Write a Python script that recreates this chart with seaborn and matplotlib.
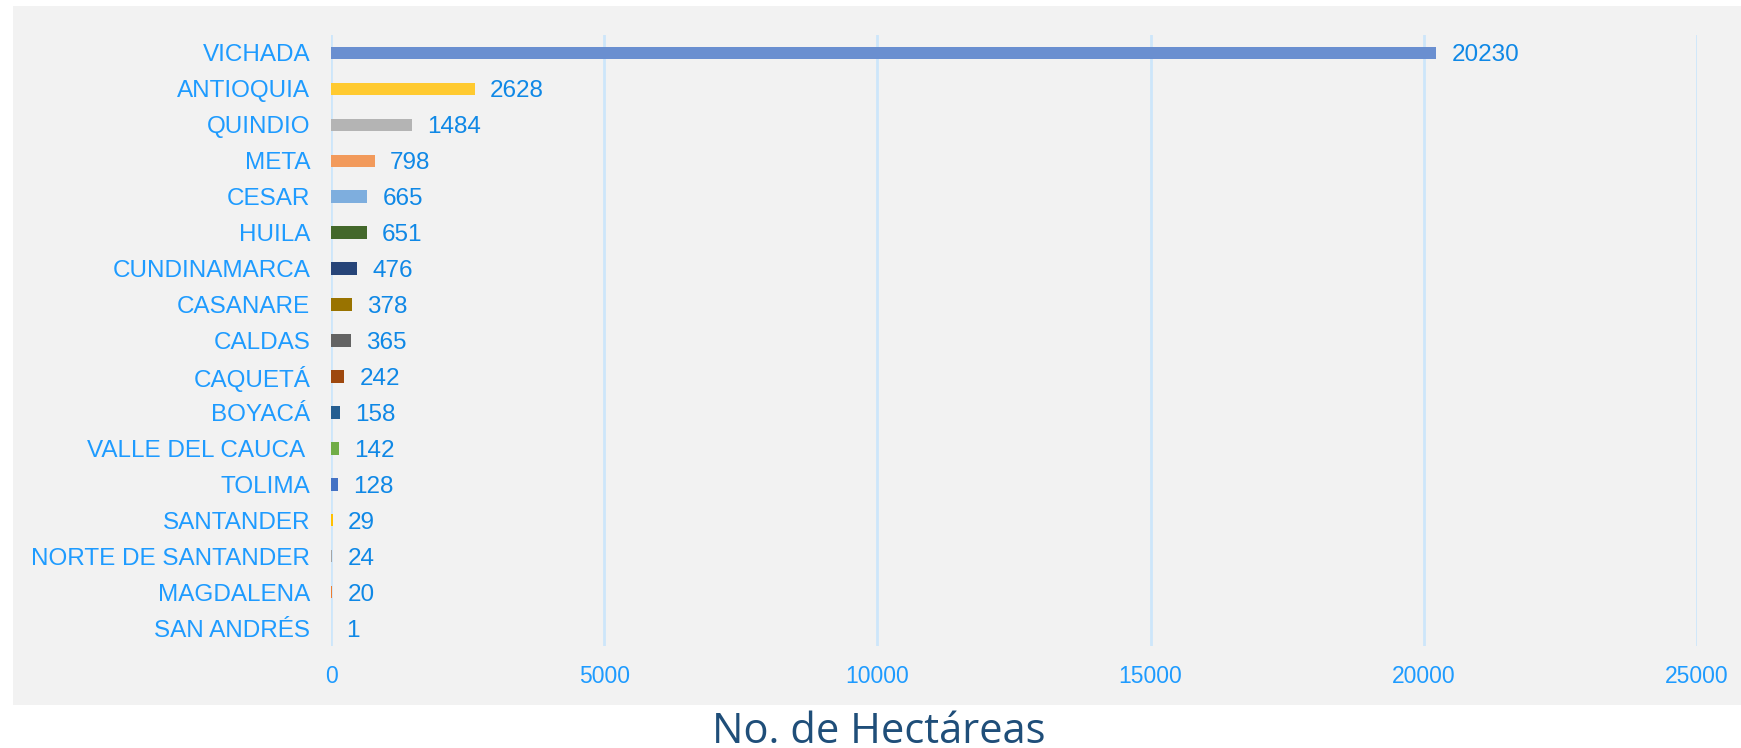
import matplotlib
matplotlib.use("Agg")
import matplotlib.pyplot as plt
import seaborn as sns
import pandas as pd
from matplotlib.patches import Rectangle

departamentos = [
    "VICHADA", "ANTIOQUIA", "QUINDIO", "META", "CESAR", "HUILA",
    "CUNDINAMARCA", "CASANARE", "CALDAS", "CAQUETÁ", "BOYACÁ",
    "VALLE DEL CAUCA ", "TOLIMA", "SANTANDER", "NORTE DE SANTANDER",
    "MAGDALENA", "SAN ANDRÉS",
]
hectareas = [20230, 2628, 1484, 798, 665, 651, 476, 378, 365, 242, 158,
             142, 128, 29, 24, 20, 1]
colores = [
    "#6A8FD0", "#FFCA30", "#B4B4B4", "#F29A5B", "#7EAEDE", "#43682B",
    "#264478", "#997300", "#636363", "#9E480E", "#255E91", "#70AD47",
    "#4472C4", "#FFC000", "#A5A5A5", "#ED7D31", "#5B9BD5",
]
ticks_x = [0, 5000, 10000, 15000, 20000, 25000]

df = pd.DataFrame({"departamento": departamentos, "hectareas": hectareas})

sns.set_theme(style="white")
plt.rcParams["font.family"] = ["Liberation Sans", "DejaVu Sans"]

W, H = 1741, 748
fig = plt.figure(figsize=(W / 100, H / 100), dpi=100)
fig.patch.set_facecolor("white")

# grey chart panel behind the axes
fig.patches.append(Rectangle((13 / W, 1 - 705 / H), 1 - 13 / W, (705 - 6) / H,
                             transform=fig.transFigure, facecolor="#F2F2F2",
                             edgecolor="none", zorder=-10))

ax = fig.add_axes([331 / W, 1 - 646 / H, (1697 - 331) / W, (646 - 35) / H])
ax.set_zorder(1)
ax.set_facecolor("#F2F2F2")

sns.barplot(data=df, y="departamento", x="hectareas", hue="departamento",
            palette=colores, orient="h", width=0.35, legend=False,
            saturation=1, linewidth=0, ax=ax)

lab_col = "#1E9BFF"
val_col = "#0F88E6"
for cont, v in zip(ax.containers, hectareas):
    txts = ax.bar_label(cont, labels=[f"{v}"], padding=11, color=val_col,
                        fontsize=17.5)
    for t in txts:
        t.set_va("center_baseline")

ax.set_xlim(0, 25000)
ax.set_ylim(len(departamentos) - 0.5, -0.5)
ax.set_xticks(ticks_x)
ax.set_xticklabels([str(t) for t in ticks_x])
ax.xaxis.grid(True, color="#CDE6FA", linewidth=2)
ax.yaxis.grid(False)
ax.set_axisbelow(True)
for s in ax.spines.values():
    s.set_visible(False)
ax.tick_params(axis="y", length=0, pad=15, labelsize=17.5, labelcolor=lab_col)
ax.tick_params(axis="x", length=0, pad=14, labelsize=16.5, labelcolor=lab_col)
ax.set_xlabel("")
ax.set_ylabel("")

fig.text(879 / W, 1 - 743 / H, "No. de Hectáreas", ha="center", va="baseline",
         fontsize=30, color="#1F4E79", family=["Open Sans", "DejaVu Sans"])

fig.savefig("out.png", dpi=100)
